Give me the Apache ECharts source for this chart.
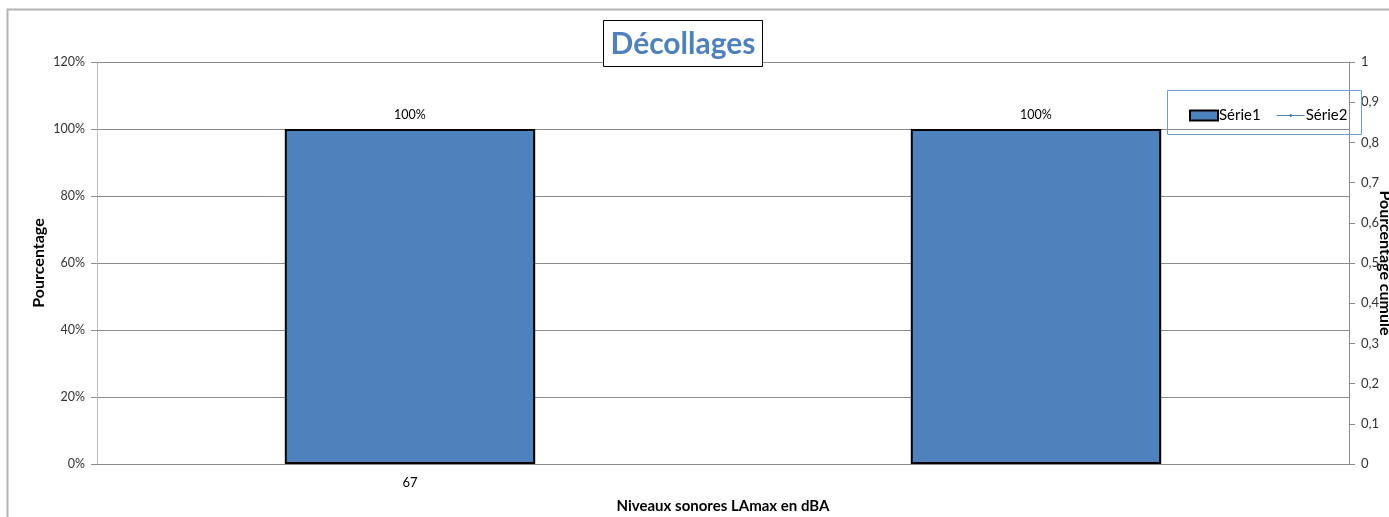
<!DOCTYPE html>
<html>
<head>
<meta charset="utf-8">
<script src="https://cdn.jsdelivr.net/npm/echarts@6/dist/echarts.min.js"></script>
<style>html,body{margin:0;padding:0;background:#fff;}#c{width:1389px;height:517px;}</style>
</head>
<body>
<div id="c"></div>
<script>
const categories = ['67', ''];
const serie1 = [1, 1];
const serie2 = [];
const leftTicks = { min: 0, max: 1.2, interval: 0.2 };
const rightTicks = { min: 0, max: 1, interval: 0.1 };
const titleText = 'Décollages';
const FONT = 'Lato, "Open Sans", sans-serif';

const chart = echarts.init(document.getElementById('c'));
chart.setOption({
  animation: false,
  textStyle: { fontFamily: FONT },
  grid: { left: 97, right: 40, top: 62, bottom: 53, outerBoundsMode: 'none', containLabel: false },
  legend: {
    left: 1184, top: 103,
    itemWidth: 28, itemHeight: 10, itemGap: 16,
    textStyle: { fontSize: 15, color: '#000', fontFamily: FONT, padding: [0, 0, 0, -4] },
    data: [
      { name: 'Série1', icon: 'rect', itemStyle: { color: '#4F81BD', borderColor: '#000', borderWidth: 2 } },
      { name: 'Série2', icon: 'path://M0,0M30,10M0,4.5H30V5.5H0Z M14,3.5H16V6.5H14Z', itemStyle: { color: '#4F81BD', borderWidth: 0 } }
    ]
  },
  graphic: [
    { type: 'rect', z: -10, shape: { x: 7.5, y: 9.5, width: 1500, height: 600 }, style: { fill: 'none', stroke: '#b4b4b4', lineWidth: 2 } },
    { type: 'rect', z: 10, shape: { x: 1167.5, y: 90.5, width: 194, height: 44 }, style: { fill: 'none', stroke: '#6f9bd3', lineWidth: 1 } },
    { type: 'rect', z: 10, shape: { x: 603.5, y: 20.5, width: 159, height: 46 }, style: { fill: '#fff', stroke: '#000', lineWidth: 1 } },
    { type: 'text', z: 11, x: 683, y: 44, style: { text: titleText, fill: '#4F81BD', font: 'bold 30px ' + FONT, align: 'center', verticalAlign: 'middle' } }
  ],
  xAxis: {
    type: 'category', data: categories,
    name: 'Niveaux sonores LAmax en dBA', nameLocation: 'middle', nameGap: 35, nameMoveOverlap: false,
    nameTextStyle: { fontSize: 15, fontWeight: 'bold', color: '#000' },
    axisLine: { lineStyle: { color: '#8c8c8c', width: 1 } },
    axisTick: { length: 5, lineStyle: { color: '#8c8c8c' } },
    axisLabel: { fontSize: 13, color: '#000', margin: 12 }
  },
  yAxis: [
    {
      type: 'value', min: leftTicks.min, max: leftTicks.max, interval: leftTicks.interval,
      name: 'Pourcentage', nameLocation: 'middle', nameGap: 50, nameRotate: 90, nameMoveOverlap: false,
      nameTextStyle: { fontSize: 16, fontWeight: 'bold', color: '#000' },
      axisLine: { show: true, lineStyle: { color: '#b0b0b0', type: 'dotted' } },
      axisTick: { show: true, length: 6, lineStyle: { color: '#8c8c8c' } },
      axisLabel: { fontSize: 12.5, color: '#333', margin: 12, formatter: v => Math.round(v * 100) + '%' },
      splitLine: { lineStyle: { color: '#8c8c8c', width: 1 } }
    },
    {
      type: 'value', min: rightTicks.min, max: rightTicks.max, interval: rightTicks.interval,
      position: 'right',
      name: 'Pourcentage cumulé', nameLocation: 'middle', nameGap: 28, nameRotate: -90, nameMoveOverlap: false,
      nameTextStyle: { fontSize: 16, fontWeight: 'bold', color: '#000' },
      axisLine: { show: true, lineStyle: { color: '#8c8c8c' } },
      axisTick: { show: true, length: 6, lineStyle: { color: '#8c8c8c' } },
      axisLabel: { fontSize: 13, color: '#333', margin: 12, formatter: v => String(Math.round(v * 10) / 10).replace('.', ',') },
      splitLine: { show: false }
    }
  ],
  series: [
    {
      name: 'Série1', type: 'bar', data: serie1, barWidth: '40%',
      itemStyle: { color: '#4F81BD', borderColor: '#000', borderWidth: 2 },
      label: { show: true, position: 'top', distance: 8, fontSize: 12.5, color: '#000', formatter: p => Math.round(p.value * 100) + '%' }
    },
    {
      name: 'Série2', type: 'line', yAxisIndex: 1, data: serie2,
      symbol: 'circle', symbolSize: 3,
      itemStyle: { color: '#4F81BD' }, lineStyle: { color: '#4F81BD', width: 1 }
    }
  ]
});
</script>
</body>
</html>
